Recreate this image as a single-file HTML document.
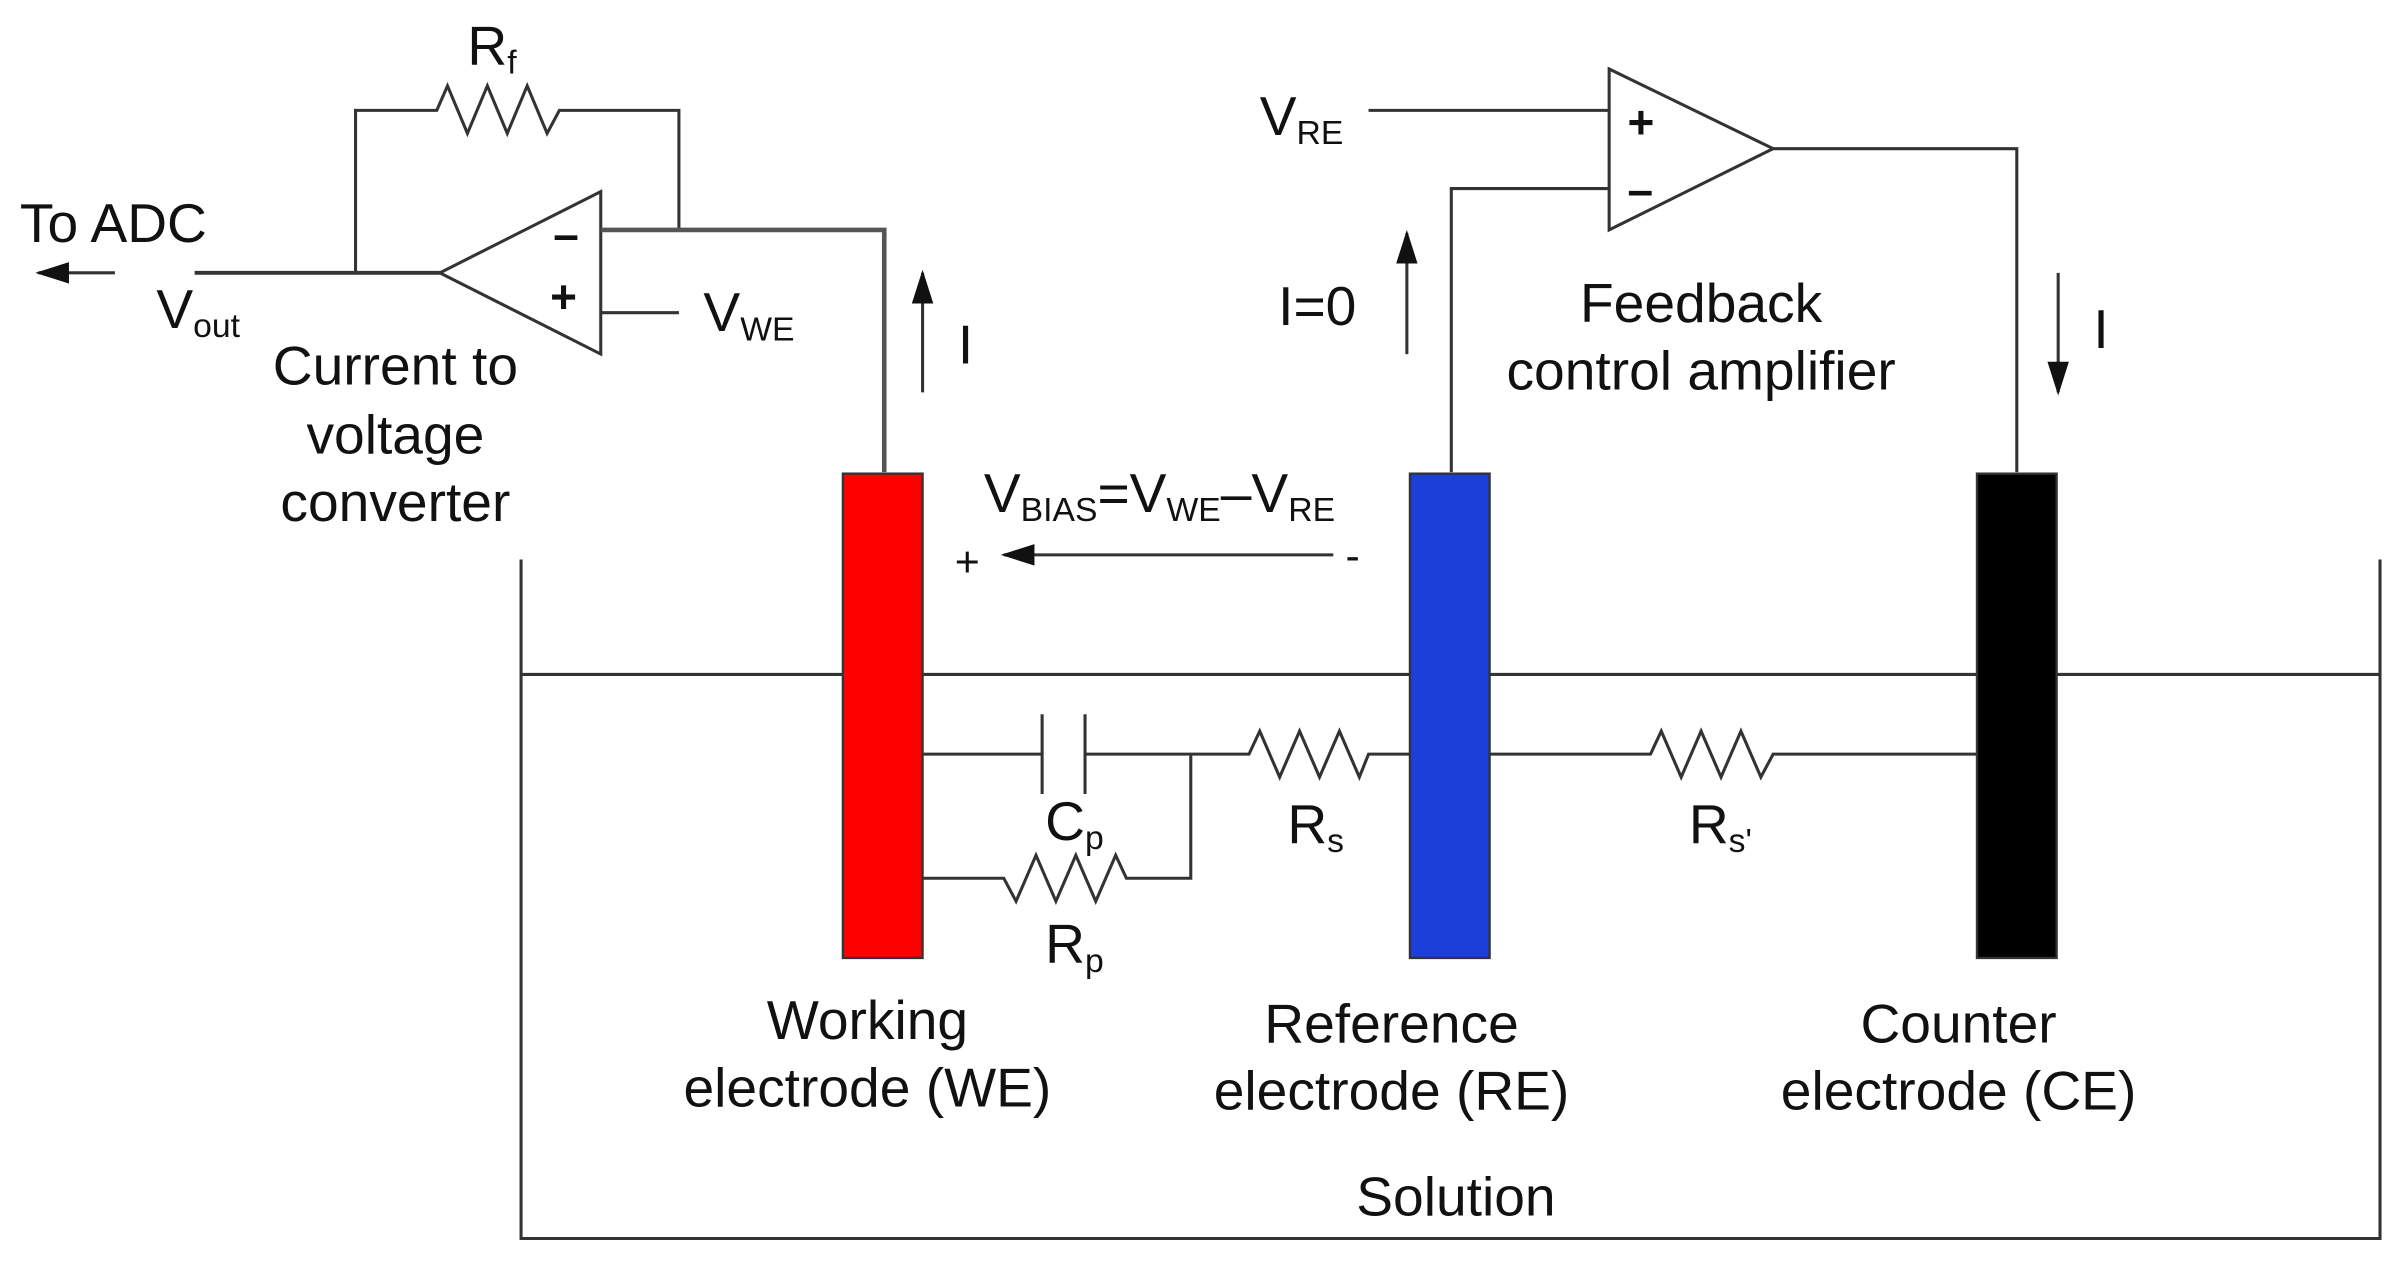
<!DOCTYPE html>
<html><head><meta charset="utf-8"><style>
html,body{margin:0;padding:0;background:#fff;}
svg{display:block;}
text{font-family:"Liberation Sans",sans-serif;fill:#111;}
</style></head><body>
<svg width="2403" height="1263" viewBox="0 0 1568 824" preserveAspectRatio="none" xmlns="http://www.w3.org/2000/svg">
<defs>
<marker id="ah2" markerWidth="22" markerHeight="14" refX="20" refY="7" orient="auto" markerUnits="userSpaceOnUse" viewBox="0 0 22 14">
<path d="M0,0 L22,7 L0,14 z" fill="#111"/></marker>
</defs>
<g stroke="#333" stroke-width="2" fill="none">
<polyline points="232,178 232,72 285,72 292,56 305,87 318,56 331,87 344,56 357,87 365,72 443,72 443,150"/>
<polygon points="287,178 392,125 392,231" fill="#fff"/>
<polyline points="392,150 577,150 577,308" stroke-width="3" stroke="#555"/>
<line x1="392" y1="204" x2="443" y2="204"/>
<line x1="127" y1="178" x2="287" y2="178" stroke-width="2.5"/>
<line x1="75" y1="178" x2="25" y2="178" marker-end="url(#ah2)"/>
<line x1="602" y1="256" x2="602" y2="178" marker-end="url(#ah2)"/>
<line x1="918" y1="231" x2="918" y2="152" marker-end="url(#ah2)"/>
<line x1="1343" y1="178" x2="1343" y2="256" marker-end="url(#ah2)"/>
<polygon points="1050,45 1050,150 1157,97" fill="#fff"/>
<line x1="893" y1="72" x2="1050" y2="72"/>
<polyline points="1050,123 947,123 947,308"/>
<polyline points="1157,97 1316,97 1316,308"/>
<polyline points="340,365 340,808 1553,808 1553,365"/>
<line x1="340" y1="440" x2="1553" y2="440"/>
<line x1="602" y1="492" x2="680" y2="492"/>
<line x1="680" y1="466" x2="680" y2="518"/>
<line x1="708" y1="466" x2="708" y2="518"/>
<polyline points="708,492 815,492 822,477 835,507 848,477 861,507 874,477 887,507 893,492 920,492"/>
<polyline points="972,492 1077,492 1084,477 1097,507 1110,477 1123,507 1136,477 1149,507 1157,492 1290,492"/>
<polyline points="777,492 777,573 735,573 728,558 715,588 702,558 689,588 676,558 663,588 655,573 602,573"/>
<line x1="870" y1="362" x2="655" y2="362" marker-end="url(#ah2)"/>
</g>
<rect x="550" y="309" width="52" height="316" fill="#ff0000" stroke="#333" stroke-width="1.5"/>
<rect x="920" y="309" width="52" height="316" fill="#1b3fd8" stroke="#333" stroke-width="1.5"/>
<rect x="1290" y="309" width="52" height="316" fill="#000" stroke="#333" stroke-width="1.5"/>
<g font-size="36">
<text x="305" y="42">R<tspan font-size="22" dy="6">f</tspan></text>
<text x="13" y="158">To ADC</text>
<text x="102" y="214">V<tspan font-size="22" dy="6">out</tspan></text>
<text x="459" y="216">V<tspan font-size="22" dy="6">WE</tspan></text>
<text x="361" y="163" font-size="30" font-weight="bold">–</text>
<text x="359" y="204" font-size="30" font-weight="bold">+</text>
<text x="1062" y="90" font-size="30" font-weight="bold">+</text>
<text x="1062" y="134" font-size="30" font-weight="bold">–</text>
<text x="822" y="88">V<tspan font-size="22" dy="6">RE</tspan></text>
<text x="625" y="237">I</text>
<text x="834" y="212">I=0</text>
<text x="1366" y="227">I</text>
<text x="1110" y="210" text-anchor="middle">Feedback</text>
<text x="1110" y="254" text-anchor="middle">control amplifier</text>
<text x="258" y="251" text-anchor="middle">Current to</text>
<text x="258" y="296" text-anchor="middle">voltage</text>
<text x="258" y="340" text-anchor="middle">converter</text>
<text x="642" y="334">V<tspan font-size="22" dy="6">BIAS</tspan><tspan dy="-6">=V</tspan><tspan font-size="22" dy="6">WE</tspan><tspan dy="-6">–V</tspan><tspan font-size="22" dy="6">RE</tspan></text>
<text x="623" y="376" font-size="28">+</text>
<text x="878" y="372" font-size="28">-</text>
<text x="682" y="548">C<tspan font-size="22" dy="6">p</tspan></text>
<text x="840" y="550">R<tspan font-size="22" dy="6">s</tspan></text>
<text x="682" y="628">R<tspan font-size="22" dy="6">p</tspan></text>
<text x="1102" y="550">R<tspan font-size="22" dy="6">s'</tspan></text>
<text x="566" y="678" text-anchor="middle">Working</text>
<text x="566" y="722" text-anchor="middle">electrode (WE)</text>
<text x="908" y="680" text-anchor="middle">Reference</text>
<text x="908" y="724" text-anchor="middle">electrode (RE)</text>
<text x="1278" y="680" text-anchor="middle">Counter</text>
<text x="1278" y="724" text-anchor="middle">electrode (CE)</text>
<text x="950" y="793" text-anchor="middle">Solution</text>
</g>
</svg>
</body></html>
